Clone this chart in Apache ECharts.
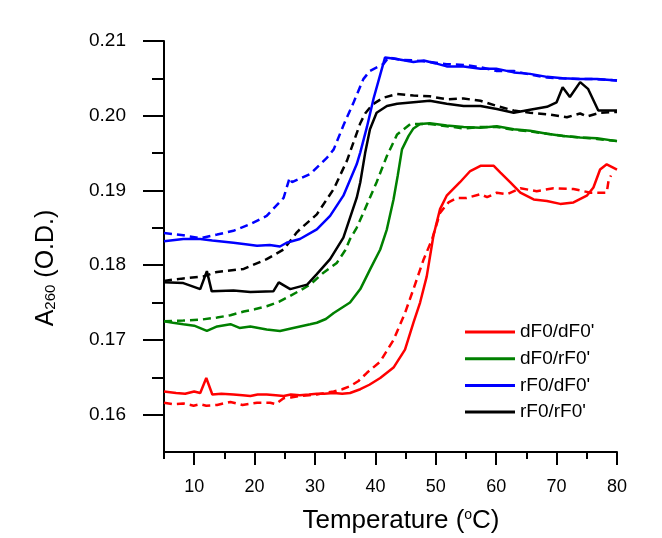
<!DOCTYPE html>
<html><head><meta charset="utf-8">
<script src="https://cdn.jsdelivr.net/npm/echarts@6/dist/echarts.min.js"></script>
<style>html,body{margin:0;padding:0;background:#fff}#c{width:662px;height:538px}</style>
</head><body><div id="c"></div>
<script>
// ---- data (temperature in °C, absorbance A260) ----
const redSolidT = [5,7,8.5,10,11,12,13,14.5,16.5,18,19.3,20.5,22,23.5,24.8,26,27.5,29,30.3,31.5,33.1,34.5,35.8,37.5,39,40.8,43,44.9,46.3,47.4,48.5,49.6,50.7,51.8,54,55.7,57.4,59.6,60.7,62.3,64,66.2,68.4,70.6,72.8,75,76.1,77.2,78.3,80];
const redSolidA = [0.1631,0.1629,0.1628,0.1631,0.1629,0.1649,0.1627,0.1628,0.1627,0.1626,0.1625,0.1627,0.1627,0.1626,0.1625,0.1627,0.1626,0.1627,0.1628,0.1628,0.1629,0.1628,0.1629,0.1634,0.1640,0.1649,0.1663,0.1687,0.1723,0.1750,0.1785,0.1839,0.1875,0.1893,0.1911,0.1926,0.1933,0.1933,0.1924,0.1911,0.1897,0.1888,0.1886,0.1882,0.1884,0.1893,0.1904,0.1928,0.1935,0.1928];
const redDashT = [5,6.5,8.2,9.9,11,12,13.8,16,18,20.4,22.6,23.5,24.8,26,27.5,29,30.3,31.6,33.1,34.5,35.8,37.2,38.6,40.8,43,44.9,46.3,48,49.4,50.7,52.1,53.5,55.1,57.4,58.5,60.1,61.8,64,66.7,69.5,72.8,75.6,78.3,78.6,79];
const redDashA = [0.1616,0.1614,0.1615,0.1612,0.1614,0.1612,0.1613,0.1617,0.1613,0.1616,0.1616,0.1614,0.1622,0.1623,0.1625,0.1626,0.1627,0.1629,0.1631,0.1634,0.1638,0.1645,0.1656,0.1671,0.1700,0.1736,0.1768,0.1808,0.1835,0.1870,0.1884,0.1890,0.1890,0.1895,0.1891,0.1897,0.1895,0.1903,0.1899,0.1903,0.1902,0.1897,0.1897,0.1913,0.1920];
const greenSolidT = [5,6.5,8.2,10,12.1,13.8,16,17.5,19.3,22,24.2,26.4,29.2,30.3,31.8,33.1,35.8,37.5,39.1,40.8,41.9,43,43.7,44.4,45.5,46.3,47.4,49,51.8,54.6,57.4,60.1,62.9,65.6,68.4,71.1,73.9,76.7,80];
const greenSolidA = [0.1725,0.1723,0.1721,0.1719,0.1712,0.1718,0.1721,0.1716,0.1718,0.1714,0.1712,0.1716,0.1721,0.1723,0.1728,0.1736,0.1750,0.1768,0.1794,0.1821,0.1848,0.1888,0.1920,0.1955,0.1973,0.1983,0.1989,0.1990,0.1987,0.1985,0.1984,0.1986,0.1982,0.1980,0.1976,0.1973,0.1971,0.1970,0.1966];
const greenDashT = [5,8.2,11,13.8,16,18.2,20,22,24,25.9,27.5,29.2,31.4,33.6,35,35.8,36.9,38,40.2,41.9,43.6,45.8,47.4,49,51.8,54.6,57.4,60.1,62.9,65.6,68.4,71.1,73.9,76.7,80];
const greenDashA = [0.1725,0.1726,0.1727,0.1730,0.1733,0.1738,0.1741,0.1745,0.1751,0.1759,0.1766,0.1774,0.1790,0.1803,0.1820,0.1835,0.1850,0.1870,0.1911,0.1946,0.1975,0.1989,0.1989,0.1989,0.1986,0.1983,0.1985,0.1985,0.1981,0.1979,0.1976,0.1973,0.1971,0.1969,0.1966];
const blueSolidT = [5,8.2,11,13,16.5,18.5,20.4,22.5,24.2,25.3,27.5,30.3,32.5,34.7,36.9,37.5,38.6,39.7,40.8,41.6,43.5,46.3,48,50,51.8,54.6,57.4,60,62.9,65.6,68.4,71,73.9,76.7,80];
const blueSolidA = [0.1832,0.1835,0.1835,0.1833,0.1830,0.1828,0.1826,0.1827,0.1825,0.1830,0.1835,0.1848,0.1866,0.1893,0.1935,0.1951,0.1985,0.2023,0.2055,0.2078,0.2076,0.2072,0.2074,0.2070,0.2066,0.2066,0.2063,0.2063,0.2058,0.2056,0.2052,0.2050,0.2049,0.2049,0.2047];
const blueDashT = [5,8.2,11,13.8,16.5,19.3,22,24.8,25.8,26.2,29.2,32,33.1,34.7,36.4,38,39.1,41.3,42.2,44,46.3,49,51.8,54.6,57.4,60,62.9,65.6,68.4,71,73.9,76.7,80];
const blueDashA = [0.1843,0.1840,0.1836,0.1841,0.1846,0.1855,0.1866,0.1890,0.1917,0.1911,0.1922,0.1944,0.1955,0.1987,0.2018,0.2049,0.2060,0.2069,0.2078,0.2075,0.2074,0.2072,0.2069,0.2068,0.2065,0.2060,0.2060,0.2055,0.2051,0.2050,0.2049,0.2049,0.2047];
const blackSolidT = [5,8.2,11,12.1,12.9,16.5,19.3,23.1,24,25.9,28.7,30.3,32.5,34.7,36.9,37.5,38.3,39.1,40.2,41.9,43.6,46.3,49,51.8,54.6,57.4,60.1,62.9,65.6,68.4,70,71,72.2,73.9,75.2,76.9,80];
const blackSolidA = [0.1777,0.1776,0.1768,0.1792,0.1765,0.1766,0.1764,0.1765,0.1777,0.1768,0.1774,0.1788,0.1808,0.1837,0.1890,0.1911,0.1950,0.1982,0.2004,0.2013,0.2016,0.2018,0.2020,0.2016,0.2013,0.2013,0.2009,0.2004,0.2008,0.2012,0.2018,0.2038,0.2025,0.2045,0.2036,0.2007,0.2007];
const blackDashT = [5,7.9,11.5,13.8,18.2,22,24.8,27,27.5,30.3,33.1,35.3,37.5,38.3,39.5,41.3,43.6,46.3,49,51.8,54.6,57.4,60.1,62.9,65.6,68.4,71.7,73.9,75,77.2,80];
const blackDashA = [0.1779,0.1782,0.1785,0.1791,0.1795,0.1808,0.1821,0.1844,0.1848,0.1868,0.1902,0.1940,0.1990,0.2003,0.2015,0.2024,0.2029,0.2027,0.2026,0.2022,0.2023,0.2020,0.2013,0.2007,0.2004,0.2002,0.1998,0.2003,0.1999,0.2004,0.2005];

const seriesNames = ["dF0/dF0'", "dF0/rF0'", "rF0/dF0'", "rF0/rF0'"];
const xMajorTicks = [10,20,30,40,50,60,70,80];
const xMinorTicks = [5,15,25,35,45,55,65,75];
const yMajorTicks = [0.16,0.17,0.18,0.19,0.20,0.21];
const yMinorTicks = [0.165,0.175,0.185,0.195,0.205];

// ---- styles ----
const colors = ['#ff0000', '#008000', '#0000ff', '#000000'];
const FONT = 'Liberation Sans, Arial, sans-serif';

function pairs(t, a) { return t.map((x, i) => [x, a[i]]); }
const curves = [
  [0, redSolidT, redSolidA, false], [1, greenSolidT, greenSolidA, false],
  [2, blueSolidT, blueSolidA, false], [3, blackSolidT, blackSolidA, false],
  [0, redDashT, redDashA, true], [1, greenDashT, greenDashA, true],
  [2, blueDashT, blueDashA, true], [3, blackDashT, blackDashA, true]
];
const series = curves.map(c => ({
  type: 'line', name: seriesNames[c[0]], data: pairs(c[1], c[2]),
  xAxisIndex: 0, yAxisIndex: 0, showSymbol: false, symbol: 'none',
  color: colors[c[0]],
  lineStyle: { color: colors[c[0]], width: 2.5, type: c[3] ? [8, 5] : 'solid' },
  itemStyle: { color: colors[c[0]] }, animation: false, z: c[3] ? 2 : 3
}));

const axisLineStyle = { color: '#000', width: 2 };
const chart = echarts.init(document.getElementById('c'), null, { renderer: 'canvas' });
chart.setOption({
  backgroundColor: '#ffffff',
  animation: false,
  grid: { left: 164, right: 45, top: 41, bottom: 86, containLabel: false },
  xAxis: [
    { type: 'value', min: 5, max: 80, position: 'bottom',
      axisLine: { show: true, lineStyle: axisLineStyle },
      axisTick: { show: true, customValues: xMajorTicks, length: 13, lineStyle: axisLineStyle },
      axisLabel: { customValues: xMajorTicks, fontSize: 18, color: '#000', fontFamily: FONT, margin: 26 },
      splitLine: { show: false } },
    { type: 'value', min: 5, max: 80, position: 'bottom',
      axisLine: { show: false },
      axisTick: { show: true, customValues: xMinorTicks, length: 7, lineStyle: axisLineStyle },
      axisLabel: { show: false }, splitLine: { show: false } }
  ],
  yAxis: [
    { type: 'value', min: 0.155, max: 0.21, position: 'left',
      axisLine: { show: true, lineStyle: axisLineStyle },
      axisTick: { show: true, customValues: yMajorTicks, length: 21, lineStyle: axisLineStyle },
      axisLabel: { customValues: yMajorTicks, fontSize: 19, color: '#000', fontFamily: FONT, margin: 38,
        formatter: v => v.toFixed(2) },
      splitLine: { show: false } },
    { type: 'value', min: 0.155, max: 0.21, position: 'left',
      axisLine: { show: false },
      axisTick: { show: true, customValues: yMinorTicks, length: 12, lineStyle: axisLineStyle },
      axisLabel: { show: false }, splitLine: { show: false } }
  ],
  legend: {
    data: seriesNames, orient: 'vertical', left: 460, top: 317,
    icon: 'rect', itemWidth: 50, itemHeight: 3, itemGap: 6.7, selectedMode: false,
    textStyle: { fontSize: 19, color: '#000', fontFamily: FONT, lineHeight: 20 }
  },
  graphic: [
    { type: 'text', x: 401, y: 521, silent: true,
      style: { text: '{a|Temperature (}{s|o}{a|C)}', align: 'center', verticalAlign: 'middle',
        rich: { a: { fontSize: 26, fontFamily: FONT, fill: '#000', color: '#000' },
                s: { fontSize: 14, fontFamily: FONT, fill: '#000', color: '#000', verticalAlign: 'top' } } } },
    { type: 'text', x: 46, y: 268, rotation: Math.PI / 2, silent: true,
      style: { text: '{a|A}{s|260}{a| (O.D.)}', align: 'center', verticalAlign: 'middle',
        rich: { a: { fontSize: 25, fontFamily: FONT, fill: '#000', color: '#000' },
                s: { fontSize: 15, fontFamily: FONT, fill: '#000', color: '#000', verticalAlign: 'bottom' } } } }
  ],
  series: series
});
</script></body></html>
